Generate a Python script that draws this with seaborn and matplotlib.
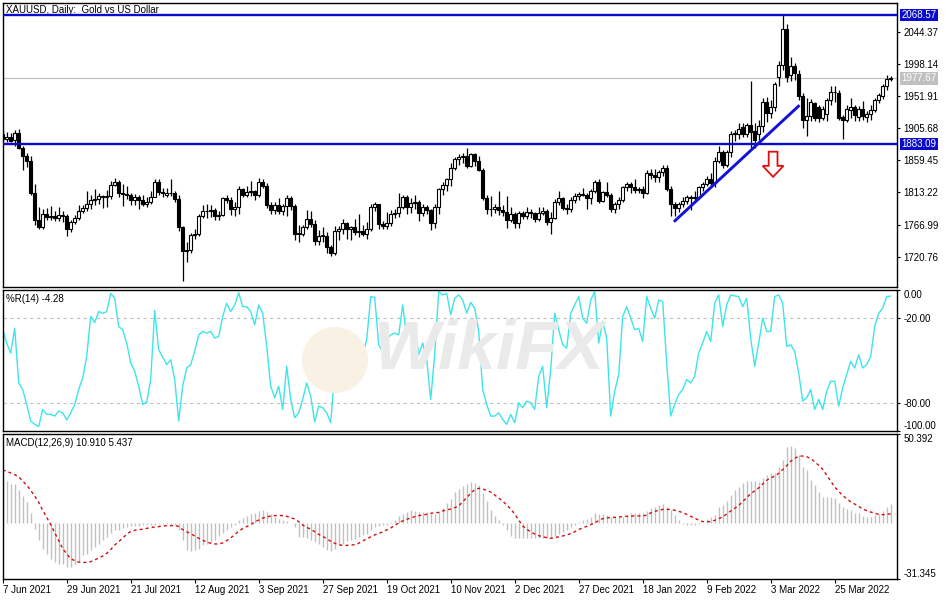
import numpy as np
import pandas as pd
import matplotlib
matplotlib.use("Agg")
import matplotlib.pyplot as plt
import seaborn as sns
from matplotlib.patches import Polygon, Ellipse
from matplotlib.transforms import blended_transform_factory

# ---------------- data ----------------
OPEN = [1898,1891,1893,1889,1899,1877,1866,1859,1812,1773,
        1764,1782,1778,1779,1776,1781,1779,1761,1770,1777,
        1787,1791,1796,1803,1804,1808,1806,1808,1824,1829,
        1812,1811,1809,1803,1806,1802,1797,1799,1806,1828,
        1814,1810,1812,1813,1804,1763,1729,1731,1752,1754,
        1780,1787,1786,1788,1780,1781,1805,1802,1790,1792,
        1818,1810,1814,1815,1810,1828,1823,1795,1788,1795,
        1787,1794,1805,1794,1754,1754,1764,1775,1768,1743,
        1751,1751,1734,1726,1757,1761,1769,1760,1763,1756,
        1757,1754,1760,1793,1796,1768,1765,1769,1782,1784,
        1793,1807,1793,1798,1800,1783,1793,1788,1769,1792,
        1818,1824,1832,1849,1862,1864,1866,1852,1868,1858,
        1846,1805,1790,1789,1792,1788,1785,1774,1782,1769,
        1783,1779,1785,1783,1775,1783,1787,1770,1777,1799,
        1805,1791,1790,1803,1808,1811,1810,1805,1815,1829,
        1801,1814,1810,1789,1797,1802,1821,1826,1821,1817,
        1818,1812,1842,1839,1835,1843,1848,1818,1797,1791,
        1797,1801,1807,1805,1807,1821,1826,1833,1827,1859,
        1871,1853,1871,1898,1898,1908,1898,1910,1902,1897,
        1909,1943,1928,1937,1980,1997,2049,1983,1996,1984,
        1952,1918,1924,1942,1936,1921,1926,1946,1958,1956,
        1922,1918,1932,1937,1922,1933,1922,1926,1932,1946,
        1952,1966,1977]
HIGH = [1903,1900,1899,1903,1904,1880,1870,1866,1825,1792,
        1790,1791,1794,1787,1792,1786,1782,1774,1781,1795,
        1795,1815,1809,1818,1812,1810,1817,1830,1834,1831,
        1825,1822,1812,1811,1809,1810,1807,1815,1832,1832,
        1820,1819,1832,1816,1810,1765,1742,1755,1761,1782,
        1795,1796,1795,1791,1786,1806,1810,1806,1799,1823,
        1820,1822,1830,1817,1834,1832,1827,1800,1800,1805,
        1797,1809,1808,1796,1767,1767,1788,1787,1773,1759,
        1763,1756,1738,1765,1765,1775,1771,1765,1775,1782,
        1766,1770,1796,1800,1797,1772,1785,1788,1790,1813,
        1810,1810,1805,1810,1802,1796,1795,1790,1796,1819,
        1828,1834,1855,1865,1868,1870,1877,1870,1870,1866,
        1849,1810,1808,1796,1815,1795,1808,1792,1785,1787,
        1787,1793,1790,1785,1792,1792,1790,1785,1804,1815,
        1807,1796,1806,1812,1814,1820,1812,1818,1831,1832,
        1815,1829,1812,1800,1806,1823,1829,1829,1832,1821,
        1822,1845,1847,1847,1846,1853,1853,1822,1799,1800,
        1807,1810,1809,1815,1823,1829,1837,1842,1865,1880,
        1874,1875,1902,1903,1913,1914,1914,1974,1914,1918,
        1950,1951,1946,1972,2002,2070,2056,2009,2000,1990,
        1956,1950,1948,1944,1940,1938,1950,1966,1966,1961,
        1925,1940,1950,1940,1938,1945,1930,1940,1950,1956,
        1970,1982,1981]
LOW = [1888,1886,1886,1880,1876,1845,1850,1810,1766,1761,
       1761,1774,1774,1772,1772,1771,1750,1756,1768,1774,
       1784,1786,1789,1795,1796,1791,1792,1804,1822,1807,
       1794,1804,1795,1795,1790,1794,1792,1796,1806,1810,
       1806,1806,1808,1800,1758,1685,1713,1726,1746,1751,
       1777,1776,1778,1774,1773,1779,1798,1781,1780,1782,
       1806,1807,1808,1803,1806,1820,1791,1782,1782,1782,
       1781,1780,1788,1745,1742,1751,1760,1763,1738,1737,
       1742,1726,1721,1723,1745,1754,1746,1745,1752,1749,
       1750,1746,1758,1787,1761,1760,1761,1765,1776,1778,
       1789,1782,1784,1790,1772,1780,1782,1759,1762,1782,
       1810,1816,1823,1845,1853,1856,1848,1850,1852,1844,
       1802,1782,1779,1784,1781,1779,1762,1771,1762,1762,
       1775,1775,1777,1771,1772,1781,1766,1753,1775,1795,
       1788,1782,1785,1798,1802,1808,1790,1797,1812,1798,
       1799,1807,1785,1783,1789,1799,1815,1812,1812,1812,
       1805,1811,1832,1829,1829,1837,1815,1780,1780,1785,
       1792,1797,1788,1800,1804,1816,1822,1822,1821,1855,
       1848,1850,1865,1888,1890,1893,1893,1878,1878,1889,
       1900,1915,1920,1930,1966,1990,1973,1974,1976,1946,
       1906,1895,1916,1916,1915,1917,1916,1940,1944,1917,
       1890,1915,1921,1916,1916,1917,1915,1918,1929,1942,
       1948,1961,1974]
CLOSE = [1891,1893,1888,1899,1877,1866,1859,1812,1773,1764,
         1782,1778,1779,1776,1781,1779,1761,1770,1777,1787,
         1791,1796,1803,1804,1808,1806,1808,1824,1829,1812,
         1811,1809,1803,1806,1802,1797,1799,1806,1828,1814,
         1813,1812,1813,1804,1763,1729,1731,1752,1754,1780,
         1787,1786,1788,1780,1781,1805,1802,1790,1792,1818,
         1810,1814,1815,1810,1828,1823,1795,1788,1795,1787,
         1794,1805,1794,1754,1754,1764,1775,1768,1743,1751,
         1751,1734,1726,1757,1761,1769,1760,1763,1756,1757,
         1754,1760,1793,1796,1768,1765,1769,1782,1784,1793,
         1807,1793,1798,1800,1783,1793,1788,1769,1792,1818,
         1824,1832,1849,1862,1864,1866,1852,1868,1858,1846,
         1805,1790,1789,1792,1788,1785,1774,1782,1769,1783,
         1779,1785,1783,1775,1783,1787,1770,1777,1799,1805,
         1791,1790,1803,1808,1811,1810,1805,1815,1829,1801,
         1814,1810,1789,1797,1802,1821,1826,1821,1817,1818,
         1812,1842,1839,1835,1843,1848,1818,1797,1791,1797,
         1801,1807,1805,1807,1821,1826,1833,1827,1859,1871,
         1853,1871,1898,1898,1905,1898,1910,1900,1889,1909,
         1943,1928,1937,1970,1997,2049,1980,1996,1985,1952,
         1918,1924,1943,1921,1921,1934,1946,1958,1958,1921,
         1917,1933,1937,1925,1933,1923,1926,1932,1946,1954,
         1967,1977,1977.67]

WPR = [-28.2,-37.6,-44.7,-27.1,-65.9,-70.6,-81.2,-92.9,-95.3,-96.9,
       -84.7,-88.2,-88.2,-89.4,-85.9,-87.1,-92.2,-87.1,-81.2,-70.6,
       -62.4,-47.1,-18.8,-23.1,-15.3,-16.5,-15.3,-2.4,-5.9,-25.9,
       -28.2,-37.6,-51.8,-57.6,-68.2,-81.2,-79.5,-63.5,-14.6,-42.4,
       -47.5,-52.9,-49.4,-63.5,-92.9,-68.2,-55.3,-52.9,-43.5,-31.8,
       -29.4,-30.6,-29.4,-34.1,-32.9,-18.8,-9.4,-15.3,-10.6,-1.9,
       -11.8,-11.8,-15.3,-24.7,-10.6,-16.5,-40.0,-68.2,-76.5,-68.2,
       -84.7,-54.1,-77.6,-90.6,-87.1,-77.6,-65.9,-75.3,-93.6,-82.4,
       -83.5,-87.1,-94.1,-58.8,-54.1,-45.9,-37.6,-47.1,-43.5,-49.4,
       -45.9,-35.3,-4.7,-5.2,-38.8,-43.5,-35.3,-31.8,-30.6,-31.8,
       -10.6,-32.9,-25.9,-23.5,-45.9,-37.6,-49.4,-77.6,-45.9,-1.2,
       -3.5,-2.4,-17.6,-5.9,-3.5,-7.1,-16.5,-8.8,-12.9,-29.4,
       -70.6,-81.2,-89.4,-89.4,-87.1,-91.8,-95.3,-88.2,-94.1,-80.0,
       -83.5,-78.8,-80.0,-84.7,-61.2,-54.1,-83.5,-56.5,-16.5,-28.2,
       -38.8,-41.2,-16.5,-10.6,-4.7,-20.0,-23.5,-7.1,-1.2,-37.6,
       -22.4,-34.1,-89.4,-71.8,-60.0,-18.8,-11.8,-20.0,-28.2,-27.1,
       -36.5,-4.7,-12.9,-20.0,-7.1,-8.2,-51.8,-89.4,-81.2,-74.1,
       -70.6,-63.5,-65.9,-61.2,-44.7,-37.6,-29.4,-36.5,-9.4,-3.5,
       -25.9,-10.6,-3.5,-4.2,-4.7,-11.8,-5.9,-34.1,-54.1,-37.6,
       -20.0,-29.4,-29.4,-4.7,-3.5,-9.4,-40.0,-38.8,-43.5,-58.8,
       -78.8,-76.5,-70.6,-84.7,-77.6,-84.7,-71.8,-64.7,-64.7,-82.4,
       -69.4,-60.0,-50.6,-55.3,-45.9,-55.3,-52.9,-47.1,-25.9,-16.5,
       -12.9,-4.7,-4.28]

MACD = [24.3,23.9,22.4,22.0,18.6,15.2,12.0,5.8,-3.0,-9.6,
        -14.3,-17.1,-19.9,-21.8,-22.7,-23.1,-24.6,-24.3,-22.7,-21.2,
        -18.0,-17.1,-14.9,-13.3,-11.5,-9.6,-7.7,-5.5,-3.9,-3.6,
        -2.4,-2.1,-1.7,-1.7,-1.3,-1.1,-1.1,-0.8,-0.8,-0.6,
        -0.2,-0.2,-0.6,-1.1,-3.9,-9.6,-15.2,-15.6,-15.2,-14.3,
        -12.4,-11.5,-10.5,-9.2,-7.3,-5.5,-3.9,-2.1,-1.1,1.7,
        3.2,3.9,5.1,5.8,7.0,7.3,6.2,5.1,3.6,2.6,
        1.7,1.3,0.2,-2.1,-7.7,-7.7,-8.1,-9.2,-10.5,-11.8,
        -13.3,-14.9,-15.6,-14.3,-12.4,-11.5,-10.2,-9.2,-8.6,-7.7,
        -6.8,-5.8,-3.9,-2.1,-1.7,-1.1,-0.8,0.8,2.1,3.9,
        5.5,6.4,7.3,7.0,6.4,6.2,6.4,5.5,5.1,6.4,
        8.8,11.5,13.9,17.7,19.6,20.9,22.4,23.4,22.6,21.6,
        17.3,12.8,7.6,4.2,1.9,-0.9,-3.7,-7.1,-8.4,-8.4,
        -8.4,-8.4,-8.4,-8.4,-8.4,-8.4,-8.4,-7.9,-7.1,-6.0,
        -4.7,-3.7,-1.8,-0.9,1.0,1.9,2.3,3.4,5.7,5.3,
        5.3,4.7,3.4,3.4,3.8,3.4,4.2,5.7,5.7,6.1,
        6.1,7.2,8.5,9.4,10.4,10.9,9.1,7.6,4.7,1.9,
        -0.3,-0.9,-0.9,-0.9,-0.5,0.4,2.3,3.4,4.7,9.4,
        10.4,12.8,16.0,18.8,20.7,22.6,24.1,24.1,24.1,23.5,
        25.4,27.3,28.2,28.6,32.0,35.7,43.3,43.6,42.3,38.6,
        32.0,30.1,24.5,21.6,17.9,15.1,15.1,15.1,14.1,11.3,
        9.4,7.9,7.6,6.1,5.7,4.2,3.4,3.4,4.7,5.3,
        7.2,9.4,10.91]

SIGNAL = [30.1,29.4,28.4,27.5,26.2,23.9,21.5,18.7,15.3,11.9,
          7.4,3.4,-0.7,-5.2,-9.7,-14.2,-17.2,-19.9,-21.0,-21.8,
          -22.1,-21.9,-21.6,-20.6,-19.5,-18.4,-16.9,-14.8,-12.2,-10.3,
          -8.2,-6.2,-4.5,-3.9,-3.5,-3.3,-2.8,-2.4,-2.0,-1.8,
          -1.5,-1.3,-1.3,-1.1,-1.8,-3.5,-4.7,-5.8,-7.1,-8.4,
          -9.5,-10.5,-11.2,-11.6,-11.6,-11.0,-9.7,-8.2,-6.4,-4.3,
          -3.0,-1.8,-0.7,0.8,1.9,3.0,3.6,4.2,4.4,4.5,
          4.4,4.0,3.2,2.5,1.0,-0.9,-2.2,-3.3,-4.7,-6.2,
          -7.3,-8.6,-10.1,-11.2,-12.0,-12.4,-12.4,-12.2,-12.0,-11.2,
          -9.9,-8.8,-7.6,-6.5,-5.6,-4.8,-3.7,-2.6,-1.1,0.2,
          1.4,2.3,3.0,3.8,4.4,4.7,5.1,5.7,5.9,6.2,
          7.0,7.6,8.1,8.9,9.8,12.2,14.5,17.0,19.0,19.8,
          19.4,18.6,17.7,16.0,14.3,12.6,10.4,8.1,5.3,1.9,
          -1.5,-3.3,-4.8,-6.0,-6.9,-7.6,-8.0,-8.4,-8.0,-7.6,
          -7.1,-6.5,-5.8,-4.7,-3.5,-2.4,-1.7,-0.7,0.4,1.5,
          2.7,3.0,3.4,3.4,3.6,3.8,4.0,4.2,4.2,4.2,
          4.2,4.7,5.9,6.8,7.4,7.9,7.9,7.9,7.4,6.8,
          6.1,5.1,4.0,2.9,1.9,1.0,1.0,1.0,1.7,2.7,
          3.6,5.3,7.0,8.5,10.0,12.4,14.5,16.8,18.3,20.0,
          22.2,24.3,25.6,26.7,28.2,30.3,32.5,35.0,36.7,37.8,
          38.0,37.6,36.5,34.8,32.7,30.5,27.1,23.9,20.5,18.1,
          15.6,14.0,12.1,10.9,9.6,8.1,7.2,6.4,5.7,5.1,
          4.9,5.1,5.437]

DATE_TICKS = [0, 16, 32, 48, 64, 80, 96, 112, 128, 144, 160, 176, 192, 208]
DATE_LABELS = ["7 Jun 2021", "29 Jun 2021", "21 Jul 2021", "12 Aug 2021",
               "3 Sep 2021", "27 Sep 2021", "19 Oct 2021", "10 Nov 2021",
               "2 Dec 2021", "27 Dec 2021", "18 Jan 2022", "9 Feb 2022",
               "3 Mar 2022", "25 Mar 2022"]
PRICE_TICKS = [2044.37, 1998.14, 1951.91, 1905.68, 1859.45, 1813.22, 1766.99, 1720.76]
RESISTANCE = 2068.57
SUPPORT = 1883.09
LAST_PRICE = 1977.67
WPR_TICKS = [0, -20, -80, -100]
WPR_LEVELS = [-20, -80]
MACD_RANGE = [-31.345, 50.392]
TREND_X = [167.8, 199.2]
TREND_Y = [1771, 1939]

TITLE = "XAUUSD, Daily:  Gold vs US Dollar"
WPR_TITLE = "%R(14) -4.28"
MACD_TITLE = "MACD(12,26,9) 10.910 5.437"
WATERMARK = "WikiFX"

# ---------------- figure ----------------
sns.set_theme(style="white")
plt.rcParams['font.family'] = ['Liberation Sans', 'DejaVu Sans']

n = min(len(OPEN), len(HIGH), len(LOW), len(CLOSE), len(WPR), len(MACD), len(SIGNAL))
df = pd.DataFrame({"bar": np.arange(n), "open": OPEN[:n], "high": HIGH[:n],
                   "low": LOW[:n], "close": CLOSE[:n], "wpr": WPR[:n],
                   "macd": MACD[:n], "signal": SIGNAL[:n]})

FS = 7
BLUE = "#0A0ACD"
fig = plt.figure(figsize=(9.5, 6), dpi=100)
L = 2.5 / 950
W = (897.3 - 2.5) / 950
ax1 = fig.add_axes([L, 1 - 287 / 600, W, 284 / 600])
ax2 = fig.add_axes([L, 1 - 431 / 600, W, 141 / 600], sharex=ax1)
ax3 = fig.add_axes([L, 1 - 579 / 600, W, 145 / 600], sharex=ax1)

for ax in (ax1, ax2, ax3):
    ax.set_facecolor("none")
    for s in ax.spines.values():
        s.set_color("black")
        s.set_linewidth(1.0)
    ax.tick_params(axis="y", left=False, labelleft=False, right=True, labelright=True,
                   direction="out", length=2.5, width=0.8, pad=2, labelsize=FS, colors="black")
    ax.tick_params(axis="x", bottom=False, labelbottom=False)
    ax.grid(False)

# faint watermark (figure level, behind the axes content)
fig.text(0.515, 0.415, WATERMARK, ha="center", va="center", fontsize=50,
         fontweight="bold", color="#EAEAEA", zorder=0, style="italic")
fig.patches.append(Ellipse((335 / 950, 1 - 360 / 600), 66 / 950, 66 / 600,
                           transform=fig.transFigure, facecolor="#F9F2E4",
                           edgecolor="none", zorder=0))

# --- price panel: candles ---
up = df["close"] >= df["open"]
ax1.vlines(df["bar"], df["low"], df["high"], color="black", linewidth=0.9, zorder=2)
body = (df["close"] - df["open"]).abs().clip(lower=0.5)
ax1.bar(df["bar"], body, bottom=np.minimum(df["open"], df["close"]), width=0.62,
        color=np.where(up, "white", "black"), edgecolor="black", linewidth=0.8, zorder=3)

ax1.axhline(LAST_PRICE, color="#C0C0C0", linewidth=0.9, zorder=1)
ax1.axhline(RESISTANCE, color=BLUE, linewidth=1.7, zorder=4)
ax1.axhline(SUPPORT, color=BLUE, linewidth=1.7, zorder=4)
ax1.plot(TREND_X, TREND_Y, color="#1212D8", linewidth=2.1, zorder=5, solid_capstyle="butt")

# red hollow arrow (annotation)
ax_c, a_top, a_neck, a_tip, sh, hh = 192.6, 1872.0, 1851.6, 1835.7, 1.1, 2.6
arrow = Polygon([[ax_c - sh, a_top], [ax_c + sh, a_top], [ax_c + sh, a_neck],
                 [ax_c + hh, a_neck], [ax_c, a_tip], [ax_c - hh, a_neck],
                 [ax_c - sh, a_neck]], closed=True, facecolor="white",
                edgecolor="#E01010", linewidth=1.3, zorder=6)
ax1.add_patch(arrow)

ax1.set_ylim(1677.0, 2086.3)
ax1.set_yticks(PRICE_TICKS)
ax1.set_yticklabels([f"{v:.2f}" for v in PRICE_TICKS])
tr1 = blended_transform_factory(ax1.transAxes, ax1.transData)
for val, fc in ((RESISTANCE, BLUE), (SUPPORT, BLUE), (LAST_PRICE, "#C0C0C0")):
    ax1.text(1.0047, val, f"{val:.2f}", transform=tr1, ha="left", va="center",
             fontsize=FS, color="white", zorder=10, clip_on=False,
             bbox=dict(boxstyle="square,pad=0.12", fc=fc, ec="none"))
ax1.text(0.004, 0.992, TITLE, transform=ax1.transAxes, ha="left", va="top",
         fontsize=FS, color="black")

# --- Williams %R panel ---
for lv in WPR_LEVELS:
    ax2.axhline(lv, color="#C0C0C0", linewidth=0.8, linestyle=(0, (3, 3)))
sns.lineplot(data=df, x="bar", y="wpr", ax=ax2, color="#3EE4E8", linewidth=1.0,
             estimator=None, legend=False)
ax2.set_ylim(-100, 0)
ax2.set_yticks(WPR_TICKS)
ax2.set_yticklabels([f"{v:.2f}" for v in WPR_TICKS])
for lab, t in zip(ax2.get_yticklabels(), WPR_TICKS):
    if t == 0:
        lab.set_va("top")
    elif t == -100:
        lab.set_va("bottom")
ax2.text(0.004, 0.975, WPR_TITLE, transform=ax2.transAxes, ha="left", va="top",
         fontsize=FS, color="black")
ax2.set_xlabel("")
ax2.set_ylabel("")

# --- MACD panel ---
ax3.vlines(df["bar"], 0, df["macd"], color="#C0C0C0", linewidth=1.0)
sns.lineplot(data=df, x="bar", y="signal", ax=ax3, color="#D01010", linewidth=1.0,
             linestyle=(0, (2.2, 2.2)), estimator=None, legend=False)
ax3.set_ylim(MACD_RANGE[0], MACD_RANGE[1])
ax3.set_yticks(MACD_RANGE)
ax3.set_yticklabels([f"{v:.3f}" for v in MACD_RANGE])
labs = ax3.get_yticklabels()
labs[0].set_va("bottom")
labs[1].set_va("top")
ax3.text(0.004, 0.975, MACD_TITLE, transform=ax3.transAxes, ha="left", va="top",
         fontsize=FS, color="black")
ax3.set_xlabel("")
ax3.set_ylabel("")

ax3.set_xlim(-0.05, 223.65)
ax3.set_xticks(DATE_TICKS)
ax3.set_xticklabels(DATE_LABELS)
ax3.tick_params(axis="x", bottom=True, labelbottom=True, direction="out", length=3,
                width=0.8, pad=1.5, labelsize=FS, colors="black")
for lab in ax3.get_xticklabels():
    lab.set_ha("left")
ax1.tick_params(axis="x", bottom=False, labelbottom=False)
ax2.tick_params(axis="x", bottom=False, labelbottom=False)

fig.savefig("out.png", dpi=100, facecolor="white")
